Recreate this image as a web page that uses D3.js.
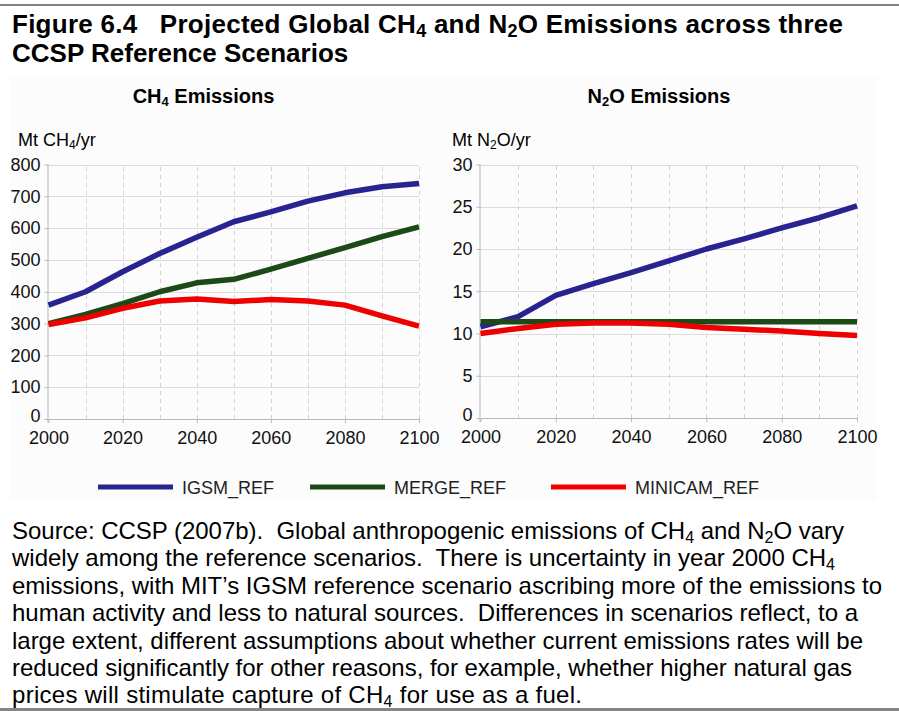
<!DOCTYPE html>
<html><head><meta charset="utf-8">
<script src="https://cdn.jsdelivr.net/npm/d3@7"></script>
<style>
html,body{margin:0;padding:0;background:#fff;}
svg{display:block;font-family:"Liberation Sans",Arial,sans-serif;}
text{white-space:pre;}
</style></head>
<body>
<script>
const years = [2000,2010,2020,2030,2040,2050,2060,2070,2080,2090,2100];
const seriesNames = ["IGSM_REF","MERGE_REF","MINICAM_REF"];
const seriesColors = ["#27248f","#1b4a18","#ee0000"];
// CH4 (Mt CH4/yr)
const ch4_IGSM    = [358,400,463,520,571,620,651,685,711,730,740];
const ch4_MERGE   = [300,329,363,400,428,439,471,505,539,573,604];
const ch4_MINICAM = [297,318,348,371,377,369,376,371,358,324,292];
// N2O (Mt N2O/yr)
const n2o_IGSM    = [10.8,12.0,14.5,15.9,17.2,18.6,20.0,21.2,22.5,23.7,25.1];
const n2o_MERGE   = [11.4,11.4,11.4,11.4,11.4,11.4,11.4,11.4,11.4,11.4,11.4];
const n2o_MINICAM = [10.0,10.6,11.1,11.25,11.25,11.1,10.7,10.5,10.3,10.0,9.75];
const ch4Ticks = [0,100,200,300,400,500,600,700,800];
const n2oTicks = [0,5,10,15,20,25,30];
const xTicks = [2000,2020,2040,2060,2080,2100];
const titleLines = [
  ["Figure 6.4   Projected Global CH",["4"]," and N",["2"],"O Emissions across three"],
  ["CCSP Reference Scenarios"]
];
const captionLines = [
  ["Source: CCSP (2007b).  Global anthropogenic emissions of CH",["4"]," and N",["2"],"O vary"],
  ["widely among the reference scenarios.  There is uncertainty in year 2000 CH",["4"]],
  ["emissions, with MIT\u2019s IGSM reference scenario ascribing more of the emissions to"],
  ["human activity and less to natural sources.  Differences in scenarios reflect, to a"],
  ["large extent, different assumptions about whether current emissions rates will be"],
  ["reduced significantly for other reasons, for example, whether higher natural gas"],
  ["prices will stimulate capture of CH",["4"]," for use as a fuel."]
];
const captionWidths = [832,823,870,846,851,840,570];

const W=899,H=711;
const svg=d3.select("body").append("svg").attr("width",W).attr("height",H);

// borders
svg.append("rect").attr("x",0).attr("y",4).attr("width",W).attr("height",2).attr("fill","#808080");
svg.append("rect").attr("x",0).attr("y",708).attr("width",W).attr("height",3).attr("fill","#858585");
// panel bg
svg.append("rect").attr("x",10).attr("y",77).attr("width",867).attr("height",423).attr("fill","#fcfcfc");

function addText(x,y,parts,size,weight,subSize,anchor,len){
  const t=svg.append("text").attr("x",x).attr("y",y).attr("font-size",size)
    .attr("font-weight",weight||"normal").attr("fill","#000").attr("text-anchor",anchor||"start");
  parts.forEach(p=>{
    if(Array.isArray(p)){
      t.append("tspan").attr("font-size",subSize).attr("baseline-shift","-22%").text(p[0]);
    } else t.append("tspan").text(p);
  });
  if(len) t.attr("textLength",len).attr("lengthAdjust","spacing");
  return t;
}

// title
addText(12,33,titleLines[0],26,"bold",18,"start",831);
addText(12,62,titleLines[1],26,"bold",18);

function panel(opt){
  const x=d3.scaleLinear().domain([2000,2100]).range([opt.x0,opt.x1]);
  const y=d3.scaleLinear().domain([0,opt.ymax]).range([opt.y0,opt.y1]);
  const g=svg.append("g");
  g.selectAll(".hg").data(opt.yticks.filter(d=>d>0)).enter().append("line")
    .attr("x1",opt.x0).attr("x2",opt.x1).attr("y1",d=>Math.round(y(d))+0.5).attr("y2",d=>Math.round(y(d))+0.5)
    .attr("stroke","#dcdcdc").attr("stroke-width",1);
  g.selectAll(".vg").data(years.filter(d=>d>2000)).enter().append("line")
    .attr("x1",d=>Math.round(x(d))+0.5).attr("x2",d=>Math.round(x(d))+0.5).attr("y1",opt.y0).attr("y2",opt.y1)
    .attr("stroke","#d2d2d2").attr("stroke-width",1).attr("stroke-dasharray","4,4");
  const ya=g.append("g").attr("transform",`translate(${opt.x0},0)`)
    .call(d3.axisLeft(y).tickValues(opt.yticks).tickSize(4).tickPadding(4).tickFormat(d3.format("d")));
  ya.select(".domain").attr("stroke","#b8b8b8").attr("d",`M-0.5,${opt.y0+4}V${opt.y1}`);
  ya.selectAll(".tick line").attr("stroke","#b8b8b8");
  ya.selectAll(".tick text").attr("font-size",18).attr("fill","#111").attr("font-family","Liberation Sans, Arial, sans-serif")
    .attr("dy",d=>d===0?"0.15em":"0.32em");
  const xa=g.append("g").attr("transform",`translate(0,${opt.y0})`)
    .call(d3.axisBottom(x).tickValues(xTicks).tickSize(4).tickPadding(8.5).tickFormat(d3.format("d")));
  xa.select(".domain").attr("stroke","#b8b8b8").attr("d",`M${opt.x0},0.5H${opt.x1}`);
  xa.selectAll(".tick line").attr("stroke","#b8b8b8");
  xa.selectAll(".tick text").attr("font-size",18).attr("fill","#111").attr("font-family","Liberation Sans, Arial, sans-serif");
  const line=d3.line().x((d,i)=>x(years[i])).y(d=>y(d));
  opt.series.forEach((s,i)=>{
    g.append("path").datum(s).attr("d",line).attr("fill","none")
      .attr("stroke",seriesColors[i]).attr("stroke-width",5.5).attr("stroke-linejoin","round");
  });
  addText(opt.tx,146,opt.unit,18,"normal",12);
  addText(opt.cx,103,opt.title,20,"bold",13,"middle");
}

panel({x0:48.5,x1:419,y0:419,y1:164.5,ymax:800,yticks:ch4Ticks,
  series:[ch4_IGSM,ch4_MERGE,ch4_MINICAM],tx:18,unit:["Mt CH",["4"],"/yr"],
  cx:203.5,title:["CH",["4"]," Emissions"]});
panel({x0:480.5,x1:857,y0:418,y1:164.5,ymax:30,yticks:n2oTicks,
  series:[n2o_IGSM,n2o_MERGE,n2o_MINICAM],tx:452,unit:["Mt N",["2"],"O/yr"],
  cx:659,title:["N",["2"],"O Emissions"]});

// legend
const legX=[98,310,551];
seriesNames.forEach((n,i)=>{
  svg.append("line").attr("x1",legX[i]).attr("x2",legX[i]+75).attr("y1",487).attr("y2",487)
    .attr("stroke",seriesColors[i]).attr("stroke-width",5);
  svg.append("text").attr("x",legX[i]+84).attr("y",494).attr("font-size",18).attr("fill","#222").text(n);
});

// caption
captionLines.forEach((ln,i)=>{
  addText(12,539+i*27.4,ln,24,"normal",16,"start",captionWidths[i]);
});
</script>
</body></html>
